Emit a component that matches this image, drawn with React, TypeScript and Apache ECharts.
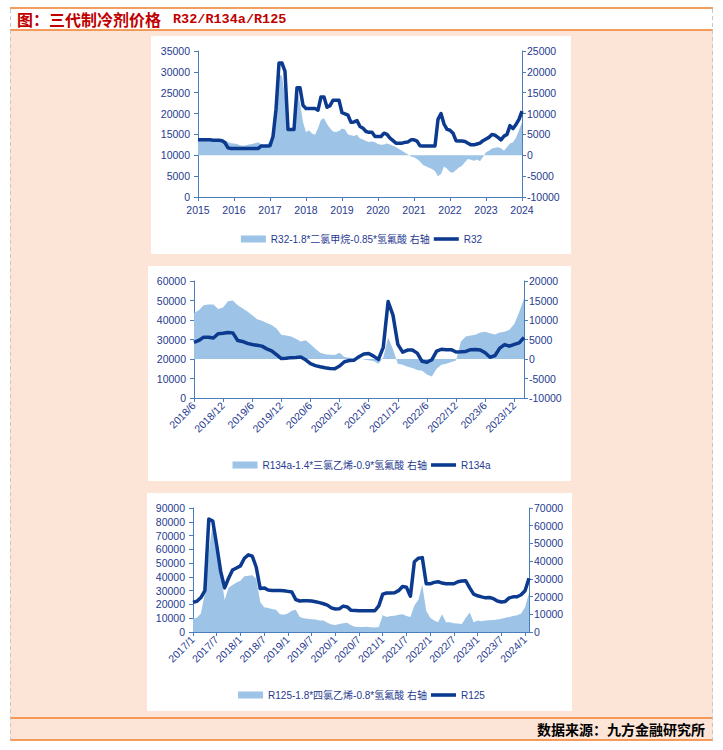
import React, { useEffect, useRef } from "react";
import * as echarts from "echarts";

// ---------- categories ----------
function months(y: number, m: number, n: number): string[] {
  const out: string[] = [];
  for (let i = 0; i < n; i++) {
    const t = m - 1 + i;
    out.push(`${y + Math.floor(t / 12)}/${(t % 12) + 1}`);
  }
  return out;
}
const r32Months = months(2015, 1, 109); // 2015/1 .. 2024/1
const r134aMonths = months(2018, 6, 69); // 2018/6 .. 2024/2
const r125Months = months(2017, 1, 86); // 2017/1 .. 2024/2

// ---------- names ----------
const r32SpreadName = "R32-1.8*二氯甲烷-0.85*氢氟酸 右轴";
const r32Name = "R32";
const r134aSpreadName = "R134a-1.4*三氯乙烯-0.9*氢氟酸 右轴";
const r134aName = "R134a";
const r125SpreadName = "R125-1.8*四氯乙烯-0.8*氢氟酸 右轴";
const r125Name = "R125";

// ---------- R32 (left axis: price, right axis: spread) ----------
const r32Price = [
  13700, 13700, 13700, 13700, 13700, 13600, 13600, 13600, 13500, 13000, 11800, 11600,
  11600, 11600, 11600, 11600, 11600, 11600, 11600, 11600, 11600, 12200, 12200, 12200,
  12300, 14500, 21000, 32100, 32100, 30100, 16200, 16200, 16200, 26200, 26200, 22000,
  21200, 21200, 21200, 21200, 20800, 24000, 24000, 21500, 21900, 23200, 23200, 23200,
  20200, 19900, 19600, 17900, 18000, 18300, 16900, 16500, 15700, 15500, 15500, 14500,
  14500, 14500, 15300, 15000, 14100, 13500, 12900, 12900, 12900, 13100, 13200, 13700,
  13700, 13400, 12300, 12250, 12250, 12250, 12250, 12250, 18600, 20000, 17500, 16200,
  16000, 15300, 13500, 13400, 13400, 13300, 12900, 12500, 12500, 12700, 12900, 13500,
  13900, 14300, 15000, 14800, 14300, 13700, 14600, 15000, 17100, 16400, 17400, 18600,
  20600,
];
const r32Spread = [
  3800, 3900, 3700, 3600, 3400, 3300, 3300, 3700, 3900, 3600, 3200, 2900,
  2800, 2700, 2400, 2300, 2400, 2600, 2700, 2900, 3100, 2700, 2400, 2600,
  3400, 4200, 10000, 19500, 19000, 14000, 6200, 6000, 7000, 16000, 12500, 8000,
  5500, 6000, 5200, 4900, 6500, 8500, 8900, 7500, 6500, 5700, 5600, 5800,
  6400, 6200, 5000, 4800, 4600, 4900, 4000, 3800, 3400, 3200, 3300, 3100,
  2700, 2500, 2600, 2800, 2600, 2300, 1900, 1500, 1100, 600, 200, -300,
  -500, -900, -1500, -2300, -2600, -3000, -3300, -3800, -5000, -4500, -2700, -3200,
  -4000, -4200, -3500, -2900, -2500, -1600, -900, -1100, -1300, -1000, -1400, -400,
  700, 1100, 1600, 1800, 1900, 1700, 1100, 2000, 2800, 3100, 4200, 6000,
  7900,
];

// ---------- R134a ----------
const r134aPrice = [
  28500, 29500, 31200, 31200, 30800, 33000, 33200, 33600, 33400, 29500,
  29000, 28000, 27400, 27000, 26600, 25200, 24200, 22200, 20200, 20400,
  20700, 20800, 21000, 19600, 17600, 16600, 16000, 15500, 15100, 15000,
  16400, 18600, 19200, 19400, 21200, 22600, 22800, 21500, 19800, 26000,
  49500, 42500, 27500, 23500, 24600, 24600, 23000, 18800, 18300, 19600,
  24000, 25000, 24800, 24800, 23600, 23700, 23900, 24800, 24900, 24600,
  23200, 20900, 21700, 25600, 27400, 26600, 27500, 28300, 31000,
];
const r134aSpread = [
  11800, 12500, 13800, 14000, 14000, 12800, 13200, 14800, 15000, 13800,
  13000, 12200, 11200, 10200, 9800, 9200, 8700, 7800, 6200, 6000,
  5800, 5200, 4500, 4800, 3800, 2600, 1600, 1200, 1100, 1000,
  1600, 500, 300, 200, 200, -100, -300, -500, -1200, 400,
  5500, 2500, -1200, -1500, -2000, -2300, -2800, -3000, -4000, -4500,
  -2500, -1500, -1200, -800, -400, 4500, 5800, 6000, 6200, 6800,
  7000, 6600, 6300, 6800, 7000, 7500, 9000, 12000, 15500,
];

// ---------- R125 ----------
const r125Price = [
  21500, 22300, 25000, 30000, 82000, 80500, 63000, 44000, 32000, 39000, 45000, 46500,
  48000, 53500, 56000, 55000, 47000, 31500, 32000, 30500, 30200, 30200, 30200, 30000,
  29500, 29000, 23500, 22500, 22600, 22700, 22500, 22000, 21300, 20500, 19500, 17500,
  16700, 16800, 18800, 18200, 15700, 15600, 15500, 15400, 15400, 15400, 15400, 19000,
  27500, 28300, 28300, 28500, 30000, 33000, 32500, 26000, 51000, 53500, 54000, 35000,
  35000, 36000, 36500, 35500, 35000, 35000, 35000, 36500, 37000, 37200, 32000, 27500,
  26300, 25500, 24800, 25000, 24200, 22500, 21800, 22200, 24800, 25500, 25600, 27000,
  30000, 39000,
];
const r125Spread = [
  7500, 8000, 10500, 22000, 45000, 62000, 50000, 34000, 18000, 25000, 26500, 28000,
  29000, 31500, 31800, 32000, 30000, 17000, 14000, 13500, 13000, 12500, 10000, 9800,
  10500, 12000, 12500, 8500, 7800, 7500, 7200, 7000, 6500, 6500, 5200, 4300,
  4000, 4500, 5000, 5200, 3800, 3000, 2800, 2800, 2900, 2700, 2600, 2800,
  9500, 8500, 9000, 9200, 9800, 10000, 9000, 8500, 15000, 18000, 26500, 12000,
  8000, 6500, 5500, 10000, 5500, 5500, 5000, 4800, 4500, 8000, 11000, 5500,
  6500, 6000, 6500, 6700, 6800, 7000, 7500, 8000, 8500, 9000, 9500, 10500,
  14000, 22000,
];

// ---------- texts ----------
const titleCn = "图：三代制冷剂价格";
const titleEn = "R32/R134a/R125";
const sourceText = "数据来源：九方金融研究所";

// ---------- styles ----------
const axisColor = "#4a7ebb";
const labelColor = "#1f3a8f";
const lineColor = "#0b3a8f";
const areaColor = "#9dc3e6";
const peach = "#fce4d6";
const orange = "#f07f2c";
const fontFamily = "'Liberation Sans', Arial, 'Noto Sans CJK SC', sans-serif";

function makeXAxis(gridIndex: number, data: string[], show: (i: number, v: string) => boolean, fmt: (v: string) => string, rotate: number, margin: number) {
  return {
    type: "category",
    gridIndex,
    data,
    boundaryGap: false,
    axisLine: { onZero: false, lineStyle: { color: axisColor, width: 1 } },
    axisTick: { show: true, interval: show, length: 4, lineStyle: { color: axisColor } },
    axisLabel: { interval: show, formatter: fmt, rotate, margin, color: labelColor, fontSize: 10.5, fontFamily },
    splitLine: { show: false },
  };
}

function makeYAxis(gridIndex: number, min: number, max: number, interval: number, position: string, margin: number) {
  return {
    type: "value",
    gridIndex,
    min,
    max,
    interval,
    position,
    axisLine: { show: true, lineStyle: { color: axisColor, width: 1 } },
    axisTick: { show: true, length: 4, lineStyle: { color: axisColor } },
    axisLabel: { margin, color: labelColor, fontSize: 10.5, fontFamily, formatter: (v: number) => String(v) },
    splitLine: { show: false },
  };
}

function areaSeries(name: string, xi: number, yi: number, data: number[]) {
  return {
    type: "line",
    name,
    xAxisIndex: xi,
    yAxisIndex: yi,
    data,
    symbol: "none",
    color: areaColor,
    itemStyle: { color: areaColor },
    lineStyle: { width: 0, opacity: 0 },
    areaStyle: { color: areaColor, opacity: 1 },
    z: 2,
  };
}

function lineSeries(name: string, xi: number, yi: number, data: number[]) {
  return {
    type: "line",
    name,
    xAxisIndex: xi,
    yAxisIndex: yi,
    data,
    symbol: "none",
    color: lineColor,
    itemStyle: { color: lineColor },
    lineStyle: { width: 3.5, color: lineColor, join: "round" },
    z: 3,
  };
}

function makeLegend(top: number, a: string, b: string) {
  return {
    top,
    left: "center",
    itemWidth: 25,
    itemHeight: 7,
    itemGap: 4,
    symbolKeepAspect: true,
    selectedMode: false,
    textStyle: { color: labelColor, fontSize: 10, fontFamily },
    data: [
      { name: a, icon: "rect", itemStyle: { color: areaColor } },
      { name: b, icon: "path://M0 0H28V4H0Z", itemStyle: { color: lineColor } },
    ],
  };
}

const isJan = (_i: number, v: string) => /\/1$/.test(v);
const every6 = (i: number) => i % 6 === 0;

export default function App() {
  const ref = useRef<HTMLDivElement>(null);
  useEffect(() => {
    if (!ref.current) return;
    const chart = echarts.init(ref.current, undefined, { renderer: "svg" });
    const option: any = {
      animation: false,
      backgroundColor: "#ffffff",
      grid: [
        { left: 198, top: 51, width: 324, height: 146 },
        { left: 194, top: 281, width: 330, height: 117 },
        { left: 193, top: 508, width: 336, height: 124 },
      ],
      xAxis: [
        makeXAxis(0, r32Months, isJan, (v) => v.split("/")[0], 0, 8),
        makeXAxis(1, r134aMonths, every6, (v) => v, 45, 6),
        makeXAxis(2, r125Months, every6, (v) => v, 45, 6),
      ],
      yAxis: [
        makeYAxis(0, 0, 35000, 5000, "left", 8),
        makeYAxis(0, -10000, 25000, 5000, "right", 5),
        makeYAxis(1, 0, 60000, 10000, "left", 8),
        makeYAxis(1, -10000, 20000, 5000, "right", 5),
        makeYAxis(2, 0, 90000, 10000, "left", 8),
        makeYAxis(2, 0, 70000, 10000, "right", 5),
      ],
      legend: [
        makeLegend(229, r32SpreadName, r32Name),
        makeLegend(455, r134aSpreadName, r134aName),
        makeLegend(685, r125SpreadName, r125Name),
      ],
      series: [
        areaSeries(r32SpreadName, 0, 1, r32Spread),
        lineSeries(r32Name, 0, 0, r32Price),
        areaSeries(r134aSpreadName, 1, 3, r134aSpread),
        lineSeries(r134aName, 1, 2, r134aPrice),
        areaSeries(r125SpreadName, 2, 5, r125Spread),
        lineSeries(r125Name, 2, 4, r125Price),
      ],
      graphic: [
        { type: "rect", z: -100, shape: { x: 10, y: 30, width: 703, height: 710 }, style: { fill: peach } },
        { type: "rect", z: -90, shape: { x: 151, y: 36, width: 420, height: 218 }, style: { fill: "#ffffff" } },
        { type: "rect", z: -90, shape: { x: 148, y: 266, width: 423, height: 215 }, style: { fill: "#ffffff" } },
        { type: "rect", z: -90, shape: { x: 147, y: 493, width: 425, height: 218 }, style: { fill: "#ffffff" } },
        { type: "line", z: -80, shape: { x1: 10, y1: 8, x2: 713, y2: 8 }, style: { stroke: orange, lineWidth: 1.5 } },
        { type: "line", z: -80, shape: { x1: 10, y1: 30, x2: 713, y2: 30 }, style: { stroke: orange, lineWidth: 1.5 } },
        { type: "line", z: -80, shape: { x1: 10, y1: 718, x2: 713, y2: 718 }, style: { stroke: orange, lineWidth: 1.5 } },
        { type: "line", z: -80, shape: { x1: 10, y1: 740, x2: 713, y2: 740 }, style: { stroke: orange, lineWidth: 1.5 } },
        { type: "line", z: -80, shape: { x1: 10.5, y1: 9, x2: 10.5, y2: 740 }, style: { stroke: "#c8c8c8", lineWidth: 1, lineDash: [4, 3] } },
        { type: "line", z: -80, shape: { x1: 712.5, y1: 9, x2: 712.5, y2: 740 }, style: { stroke: "#c8c8c8", lineWidth: 1, lineDash: [4, 3] } },
        {
          type: "text",
          z: 10,
          x: 17,
          y: 19,
          style: {
            text: titleCn,
            fill: "#c00000",
            font: "bold 16px 'Noto Sans CJK SC', sans-serif",
            textAlign: "left",
            align: "left",
            textVerticalAlign: "middle",
            verticalAlign: "middle",
          },
        },
        {
          type: "text",
          z: 10,
          x: 173,
          y: 19,
          style: {
            text: titleEn,
            fill: "#c00000",
            font: "bold 13.5px 'Liberation Mono', monospace",
            textAlign: "left",
            align: "left",
            textVerticalAlign: "middle",
            verticalAlign: "middle",
          },
        },
        {
          type: "text",
          z: 10,
          x: 705,
          y: 729,
          style: {
            text: sourceText,
            fill: "#000000",
            font: "bold 14px 'Noto Sans CJK SC', sans-serif",
            textAlign: "right",
            align: "right",
            textVerticalAlign: "middle",
            verticalAlign: "middle",
          },
        },
      ],
    };
    chart.setOption(option);
    return () => chart.dispose();
  }, []);
  return (
    <div
      ref={ref}
      style={{ position: "absolute", left: 0, top: 0, width: 723, height: 750 }}
    />
  );
}
